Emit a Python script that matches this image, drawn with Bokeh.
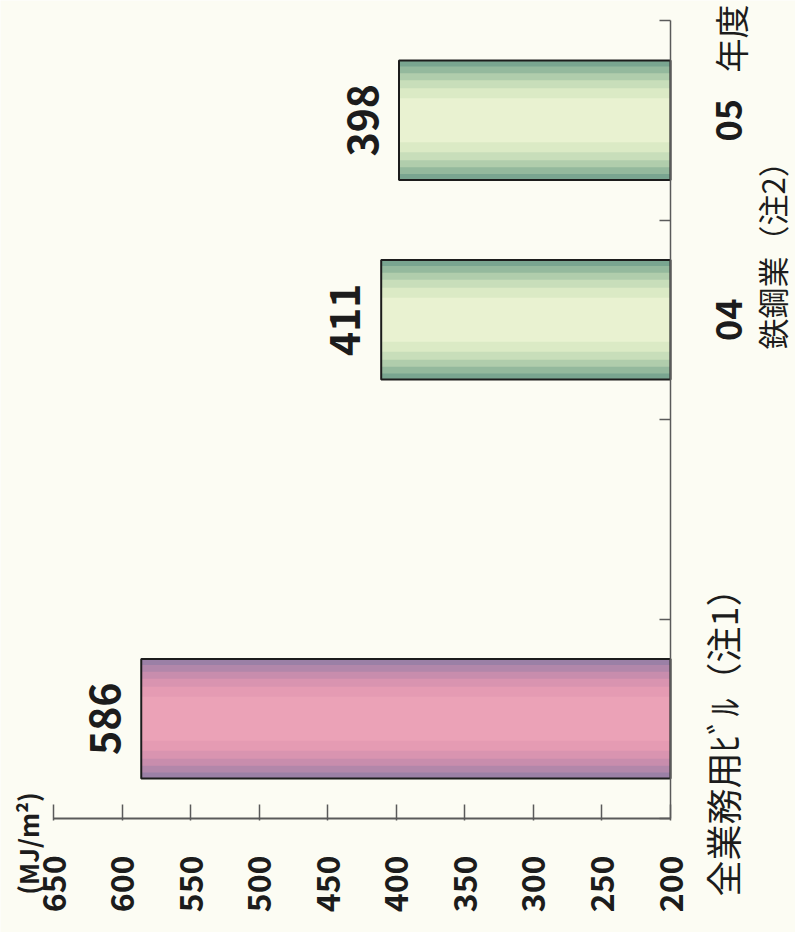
import math
from bokeh.plotting import figure
from bokeh.models import Range1d, LinearAxis, FixedTicker, ColumnDataSource
from bokeh.embed import file_html
from bokeh.resources import INLINE
from bokeh.core.properties import value

# ---- data ----
categories = ["全業務用ﾋﾞﾙ（注1）", "gap", "04", "05"]
bar_categories = ["全業務用ﾋﾞﾙ（注1）", "04", "05"]
bar_values = [586, 411, 398]
bar_labels = ["586", "411", "398"]
bar_kind = ["office", "steel", "steel"]
value_ticks = [200, 250, 300, 350, 400, 450, 500, 550, 600, 650]
value_min, value_max = 200, 650
office_label = "全業務用ﾋﾞﾙ（注1）"
steel_label = "鉄鋼業（注2）"
year_labels = ["04", "05"]
year_unit = "年度"
unit_label = "(MJ/m²)"

# ---- styles / geometry (pixels) ----
W, H = 795, 932
PX_LEFT, PX_RIGHT = 53, 670      # pixel positions of value_max / value_min
PX_TOP, PX_BOTTOM = 20, 818      # pixel positions of category block edges
BG = "#fcfcf3"
INK = "#1c1c1c"
AXIS = "#5a5a5a"
CJK = "Noto Sans CJK JP"
shades = {
    "office": ["#9b80a6", "#b287aa", "#c88dad", "#d994b0", "#e59bb3", "#eba2b7"],
    "steel": ["#79a590", "#94b99d", "#b0cdac", "#c8deba", "#dbeac5", "#e9f2d1"],
}
layer_heights = [0.6, 0.54, 0.47, 0.40, 0.32, 0.22]

n = len(categories)
sx = (PX_RIGHT - PX_LEFT) / (value_max - value_min)
sy = (PX_BOTTOM - PX_TOP) / n
x_range = Range1d(value_max + PX_LEFT / sx, value_min - (W - PX_RIGHT) / sx)
y_range = Range1d(-(H - PX_BOTTOM) / sy, n + PX_TOP / sy)

def center_of(factor):
    return categories.index(factor) + 0.5

data = dict(cat=[center_of(c) for c in bar_categories], val=bar_values, lab=bar_labels)
for i in range(len(layer_heights)):
    data[f"c{i}"] = [shades[k][i] for k in bar_kind]
src = ColumnDataSource(data)

p = figure(width=W, height=H, x_range=x_range, y_range=y_range,
           x_axis_location=None, y_axis_location=None,
           toolbar_location=None, output_backend="svg",
           min_border=0, background_fill_color=BG, border_fill_color=BG,
           outline_line_color=None)
p.grid.visible = False

for i, h in enumerate(layer_heights):
    p.hbar(y="cat", left=value_min, right="val", height=h, source=src,
           fill_color=f"c{i}", line_color=None)
p.hbar(y="cat", left=value_min, right="val", height=layer_heights[0], source=src,
       fill_color=None, line_color=INK, line_width=2)

# value labels
p.text(x="val", y="cat", text="lab", source=src, angle=math.pi / 2,
       x_offset=-36, text_align="center", text_baseline="middle",
       text_font=value(CJK), text_font_size="41px", text_font_style="bold",
       text_color=INK)

# value axis, fixed at the bottom edge of the category block
xaxis = LinearAxis(fixed_location=0, bounds=(value_min, value_max),
                   ticker=FixedTicker(ticks=value_ticks),
                   major_label_orientation=math.pi / 2,
                   major_tick_in=14, major_tick_out=2,
                   minor_tick_line_color=None,
                   major_label_standoff=35,
                   axis_line_color=AXIS, axis_line_width=2,
                   major_tick_line_color=AXIS, major_tick_line_width=1.5,
                   major_label_text_font=CJK, major_label_text_font_size="32px",
                   major_label_text_font_style="bold", major_label_text_color=INK)
p.add_layout(xaxis, "below")

# category axis at value_min with ticks at category boundaries
yaxis = LinearAxis(fixed_location=value_min, bounds=(0, n),
                   ticker=FixedTicker(ticks=[], minor_ticks=list(range(n + 1))),
                   minor_tick_in=11, minor_tick_out=0,
                   minor_tick_line_color=AXIS, minor_tick_line_width=1.5,
                   major_tick_line_color=None,
                   axis_line_color=AXIS, axis_line_width=1.5)
p.add_layout(yaxis, "right")

# category / group / unit labels
lab = dict(
    text=year_labels + [year_unit, steel_label, office_label, unit_label],
    x=[value_min, value_min, value_min, value_min, value_min, value_max],
    y=[center_of(y) for y in year_labels]
      + [center_of(year_labels[-1]) + 0.41,
         center_of(year_labels[0]) + 0.36,
         center_of(office_label) - 0.074,
         -0.125],
    dx=[58, 58, 60, 101, 51, -26],
    size=["36px", "36px", "34px", "31px", "36px", "26px"],
    style=["bold", "bold", "normal", "normal", "normal", "bold"],
)
lsrc = ColumnDataSource(lab)
p.text(x="x", y="y", text="text", source=lsrc, angle=math.pi / 2,
       x_offset="dx", text_align="center", text_baseline="middle",
       text_font=value(CJK), text_font_size="size", text_font_style="style",
       text_color=INK)

open("out.html", "w").write(file_html(p, INLINE))
